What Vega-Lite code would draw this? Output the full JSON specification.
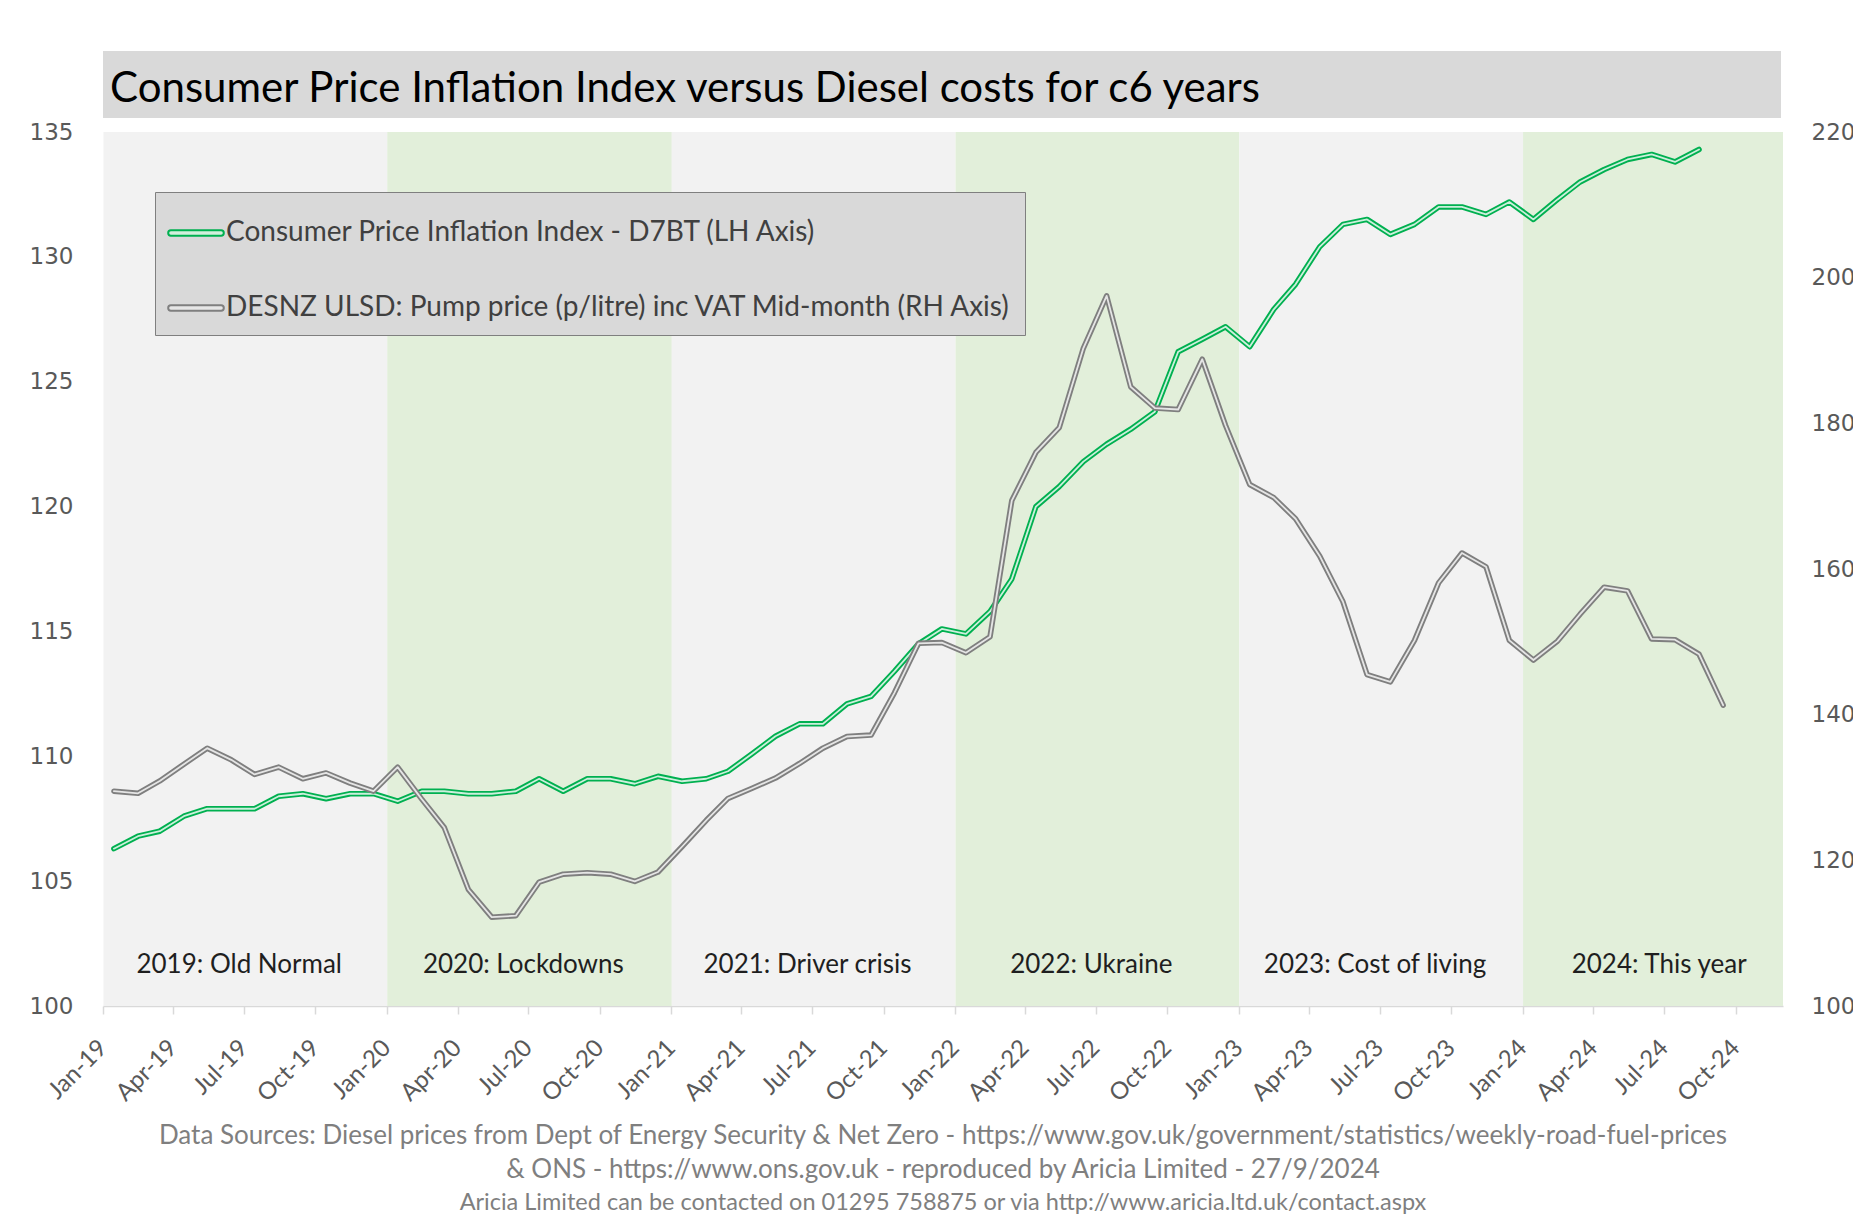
{
  "$schema": "https://vega.github.io/schema/vega-lite/v6.json",
  "background": "white",
  "padding": {"left": 29, "top": 51, "right": 0, "bottom": 0},
  "config": {"font": "Lato", "view": {"stroke": null}},
  "datasets": {
    "years": [
      {"start": "2019-01-01", "label": "2019: Old Normal"},
      {"start": "2020-01-01", "label": "2020: Lockdowns"},
      {"start": "2021-01-01", "label": "2021: Driver crisis"},
      {"start": "2022-01-01", "label": "2022: Ukraine"},
      {"start": "2023-01-01", "label": "2023: Cost of living"},
      {"start": "2024-01-01", "label": "2024: This year"}
    ],
    "series": [
      {"month": "2019-01-15", "cpi": 106.3, "diesel": 129.5},
      {"month": "2019-02-15", "cpi": 106.8, "diesel": 129.2},
      {"month": "2019-03-15", "cpi": 107.0, "diesel": 130.9},
      {"month": "2019-04-15", "cpi": 107.6, "diesel": 133.2},
      {"month": "2019-05-15", "cpi": 107.9, "diesel": 135.4},
      {"month": "2019-06-15", "cpi": 107.9, "diesel": 133.8},
      {"month": "2019-07-15", "cpi": 107.9, "diesel": 131.8},
      {"month": "2019-08-15", "cpi": 108.4, "diesel": 132.8},
      {"month": "2019-09-15", "cpi": 108.5, "diesel": 131.2},
      {"month": "2019-10-15", "cpi": 108.3, "diesel": 132.0},
      {"month": "2019-11-15", "cpi": 108.5, "diesel": 130.6},
      {"month": "2019-12-15", "cpi": 108.5, "diesel": 129.5},
      {"month": "2020-01-15", "cpi": 108.2, "diesel": 132.8},
      {"month": "2020-02-15", "cpi": 108.6, "diesel": 128.4},
      {"month": "2020-03-15", "cpi": 108.6, "diesel": 124.5},
      {"month": "2020-04-15", "cpi": 108.5, "diesel": 116.0},
      {"month": "2020-05-15", "cpi": 108.5, "diesel": 112.2},
      {"month": "2020-06-15", "cpi": 108.6, "diesel": 112.4},
      {"month": "2020-07-15", "cpi": 109.1, "diesel": 117.0},
      {"month": "2020-08-15", "cpi": 108.6, "diesel": 118.1},
      {"month": "2020-09-15", "cpi": 109.1, "diesel": 118.3},
      {"month": "2020-10-15", "cpi": 109.1, "diesel": 118.1},
      {"month": "2020-11-15", "cpi": 108.9, "diesel": 117.1},
      {"month": "2020-12-15", "cpi": 109.2, "diesel": 118.4},
      {"month": "2021-01-15", "cpi": 109.0, "diesel": 121.9},
      {"month": "2021-02-15", "cpi": 109.1, "diesel": 125.5},
      {"month": "2021-03-15", "cpi": 109.4, "diesel": 128.5},
      {"month": "2021-04-15", "cpi": 110.1, "diesel": 129.9},
      {"month": "2021-05-15", "cpi": 110.8, "diesel": 131.3},
      {"month": "2021-06-15", "cpi": 111.3, "diesel": 133.3},
      {"month": "2021-07-15", "cpi": 111.3, "diesel": 135.4},
      {"month": "2021-08-15", "cpi": 112.1, "diesel": 137.0},
      {"month": "2021-09-15", "cpi": 112.4, "diesel": 137.2},
      {"month": "2021-10-15", "cpi": 113.4, "diesel": 143.0},
      {"month": "2021-11-15", "cpi": 114.5, "diesel": 149.8},
      {"month": "2021-12-15", "cpi": 115.1, "diesel": 149.9},
      {"month": "2022-01-15", "cpi": 114.9, "diesel": 148.5},
      {"month": "2022-02-15", "cpi": 115.8, "diesel": 150.7},
      {"month": "2022-03-15", "cpi": 117.1, "diesel": 169.4},
      {"month": "2022-04-15", "cpi": 120.0, "diesel": 176.0},
      {"month": "2022-05-15", "cpi": 120.8, "diesel": 179.4},
      {"month": "2022-06-15", "cpi": 121.8, "diesel": 190.3},
      {"month": "2022-07-15", "cpi": 122.5, "diesel": 197.5},
      {"month": "2022-08-15", "cpi": 123.1, "diesel": 185.0},
      {"month": "2022-09-15", "cpi": 123.8, "diesel": 182.1},
      {"month": "2022-10-15", "cpi": 126.2, "diesel": 181.9},
      {"month": "2022-11-15", "cpi": 126.7, "diesel": 188.8},
      {"month": "2022-12-15", "cpi": 127.2, "diesel": 179.7},
      {"month": "2023-01-15", "cpi": 126.4, "diesel": 171.6},
      {"month": "2023-02-15", "cpi": 127.9, "diesel": 169.8},
      {"month": "2023-03-15", "cpi": 128.9, "diesel": 166.9},
      {"month": "2023-04-15", "cpi": 130.4, "diesel": 161.8},
      {"month": "2023-05-15", "cpi": 131.3, "diesel": 155.5},
      {"month": "2023-06-15", "cpi": 131.5, "diesel": 145.5},
      {"month": "2023-07-15", "cpi": 130.9, "diesel": 144.5},
      {"month": "2023-08-15", "cpi": 131.3, "diesel": 150.2},
      {"month": "2023-09-15", "cpi": 132.0, "diesel": 158.1},
      {"month": "2023-10-15", "cpi": 132.0, "diesel": 162.2},
      {"month": "2023-11-15", "cpi": 131.7, "diesel": 160.3},
      {"month": "2023-12-15", "cpi": 132.2, "diesel": 150.2},
      {"month": "2024-01-15", "cpi": 131.5, "diesel": 147.5},
      {"month": "2024-02-15", "cpi": 132.3, "diesel": 150.1},
      {"month": "2024-03-15", "cpi": 133.0, "diesel": 153.8},
      {"month": "2024-04-15", "cpi": 133.5, "diesel": 157.5},
      {"month": "2024-05-15", "cpi": 133.9, "diesel": 157.0},
      {"month": "2024-06-15", "cpi": 134.1, "diesel": 150.4},
      {"month": "2024-07-15", "cpi": 133.8, "diesel": 150.3},
      {"month": "2024-08-15", "cpi": 134.3, "diesel": 148.3},
      {"month": "2024-09-15", "cpi": null, "diesel": 141.3}
    ]
  },
  "spacing": 3,
  "resolve": {"scale": {"stroke": "independent"}, "legend": {"stroke": "independent"}},
  "vconcat": [
    {
      "width": 1678,
      "height": 67,
      "view": {"fill": "#d9d9d9", "stroke": null},
      "title": {
        "text": "Consumer Price Inflation Index versus Diesel costs for c6 years",
        "anchor": "start", "frame": "group", "orient": "top", "offset": -60, "dx": 7,
        "font": "Lato", "fontSize": 42, "fontWeight": "normal", "color": "#000000"
      },
      "data": {"values": []},
      "mark": "point"
    },
    {
      "width": 1680,
      "height": 874,
      "title": {
        "text": [
          "Data Sources: Diesel prices from Dept of Energy Security & Net Zero - https://www.gov.uk/government/statistics/weekly-road-fuel-prices",
          "& ONS - https://www.ons.gov.uk - reproduced by Aricia Limited - 27/9/2024"
        ],
        "subtitle": "Aricia Limited can be contacted on 01295 758875 or via http://www.aricia.ltd.uk/contact.aspx",
        "orient": "bottom", "anchor": "middle", "frame": "group", "offset": 17,
        "font": "Lato", "fontSize": 26, "fontWeight": "normal", "color": "#7f7f7f", "lineHeight": 34,
        "subtitleFont": "Lato", "subtitleFontSize": 23.5, "subtitleColor": "#7f7f7f", "subtitlePadding": 8
      },
      "resolve": {"scale": {"y": "independent"}},
      "layer": [
        {
          "layer": [
            {
              "data": {"name": "years"},
              "mark": {"type": "rect", "clip": true},
              "encoding": {
                "x": {
                  "field": "start", "type": "temporal", "timeUnit": "utcyear",
                  "scale": {"type": "utc", "domain": [{"year": 2019, "month": 1, "date": 1, "utc": true}, {"year": 2024, "month": 12, "date": 1, "utc": true}]},
                  "axis": {
                    "title": null, "format": "%b-%y", "tickCount": {"interval": "month", "step": 3},
                    "labelAngle": -45, "labelAlign": "right", "labelBaseline": "middle",
                    "labelFont": "Lato", "labelFontSize": 24, "labelColor": "#595959", "labelPadding": 30,
                    "labelFlush": false, "labelOverlap": false, "grid": false,
                    "tickColor": "#d9d9d9", "tickSize": 8, "tickWidth": 1.5,
                    "domainColor": "#d9d9d9", "domainWidth": 1.5
                  }
                },
                "fill": {
                  "field": "label", "type": "nominal",
                  "scale": {"range": ["#f2f2f2", "#e2efda", "#f2f2f2", "#e2efda", "#f2f2f2", "#e2efda"]},
                  "legend": null
                }
              }
            },
            {
              "data": {"name": "years"},
              "mark": {"type": "text", "font": "Lato", "fontSize": 26, "color": "#1f1f1f", "baseline": "middle", "align": "center"},
              "encoding": {
                "x": {"field": "start", "type": "temporal", "timeUnit": "utcyear", "bandPosition": 0.48,
                      "scale": {"type": "utc", "domain": [{"year": 2019, "month": 1, "date": 1, "utc": true}, {"year": 2024, "month": 12, "date": 1, "utc": true}]}},
                "y": {"datum": 101.65, "type": "quantitative",
                      "scale": {"domain": [100, 135], "nice": false, "zero": false},
                      "axis": {"orient": "left", "title": null, "values": [100, 105, 110, 115, 120, 125, 130, 135], "domain": false, "ticks": false, "grid": false,
                               "labelFont": "DejaVu Sans", "labelFontSize": 23, "labelColor": "#595959", "labelPadding": 30}},
                "text": {"field": "label"}
              }
            },
            {
              "data": {"name": "series"},
              "mark": {"type": "line", "strokeWidth": 5.5, "strokeJoin": "round", "strokeCap": "round"},
              "encoding": {
                "x": {"field": "month", "type": "temporal",
                      "scale": {"type": "utc", "domain": [{"year": 2019, "month": 1, "date": 1, "utc": true}, {"year": 2024, "month": 12, "date": 1, "utc": true}]}},
                "y": {"field": "cpi", "type": "quantitative",
                      "scale": {"domain": [100, 135], "nice": false, "zero": false},
                      "axis": {"orient": "left", "title": null, "values": [100, 105, 110, 115, 120, 125, 130, 135], "domain": false, "ticks": false, "grid": false,
                               "labelFont": "DejaVu Sans", "labelFontSize": 23, "labelColor": "#595959", "labelPadding": 30}},
                "stroke": {
                  "datum": "Consumer Price Inflation Index - D7BT (LH Axis)", "type": "nominal",
                  "scale": {"domain": ["Consumer Price Inflation Index - D7BT (LH Axis)", "DESNZ ULSD: Pump price (p/litre) inc VAT Mid-month (RH Axis)"], "range": ["#00b050", "#7f7f7f"]},
                  "legend": {
                    "orient": "none", "legendX": 52, "legendY": 60, "title": null,
                    "fillColor": "#d9d9d9", "strokeColor": "#7f7f7f", "padding": 13, "rowPadding": 33,
                    "labelFont": "Lato", "labelFontSize": 28, "labelColor": "#404040", "labelLimit": 2000, "labelOffset": 2,
                    "symbolType": "M-0.93,-0.1L0.93,-0.1A0.1,0.1 0 0 1 0.93,0.1L-0.93,0.1A0.1,0.1 0 0 1 -0.93,-0.1Z", "symbolSize": 2916, "symbolStrokeWidth": 2,
                    "encode": {"symbols": {"update": {"fill": {"signal": "datum.value === 'DESNZ ULSD: Pump price (p/litre) inc VAT Mid-month (RH Axis)' ? '#e6e6e6' : '#d3efdc'"}}}}
                  }
                }
              }
            },
            {
              "data": {"name": "series"},
              "mark": {"type": "line", "strokeWidth": 1.8, "stroke": "#ffffff", "opacity": 0.8, "strokeJoin": "round", "strokeCap": "round"},
              "encoding": {
                "x": {"field": "month", "type": "temporal",
                      "scale": {"type": "utc", "domain": [{"year": 2019, "month": 1, "date": 1, "utc": true}, {"year": 2024, "month": 12, "date": 1, "utc": true}]}},
                "y": {"field": "cpi", "type": "quantitative", "scale": {"domain": [100, 135], "nice": false, "zero": false}}
              }
            }
          ]
        },
        {
          "layer": [
            {
              "data": {"name": "series"},
              "mark": {"type": "line", "strokeWidth": 5.5, "strokeJoin": "round", "strokeCap": "round"},
              "encoding": {
                "x": {"field": "month", "type": "temporal",
                      "scale": {"type": "utc", "domain": [{"year": 2019, "month": 1, "date": 1, "utc": true}, {"year": 2024, "month": 12, "date": 1, "utc": true}]}},
                "y": {"field": "diesel", "type": "quantitative",
                      "scale": {"domain": [100, 220], "nice": false, "zero": false},
                      "axis": {"orient": "right", "title": null, "values": [100, 120, 140, 160, 180, 200, 220], "domain": false, "ticks": false, "grid": false,
                               "labelFont": "DejaVu Sans", "labelFontSize": 23, "labelColor": "#595959", "labelPadding": 28}},
                "stroke": {"datum": "DESNZ ULSD: Pump price (p/litre) inc VAT Mid-month (RH Axis)", "type": "nominal"}
              }
            },
            {
              "data": {"name": "series"},
              "mark": {"type": "line", "strokeWidth": 1.8, "stroke": "#ffffff", "opacity": 0.8, "strokeJoin": "round", "strokeCap": "round"},
              "encoding": {
                "x": {"field": "month", "type": "temporal",
                      "scale": {"type": "utc", "domain": [{"year": 2019, "month": 1, "date": 1, "utc": true}, {"year": 2024, "month": 12, "date": 1, "utc": true}]}},
                "y": {"field": "diesel", "type": "quantitative", "scale": {"domain": [100, 220], "nice": false, "zero": false}}
              }
            }
          ]
        }
      ]
    }
  ]
}
